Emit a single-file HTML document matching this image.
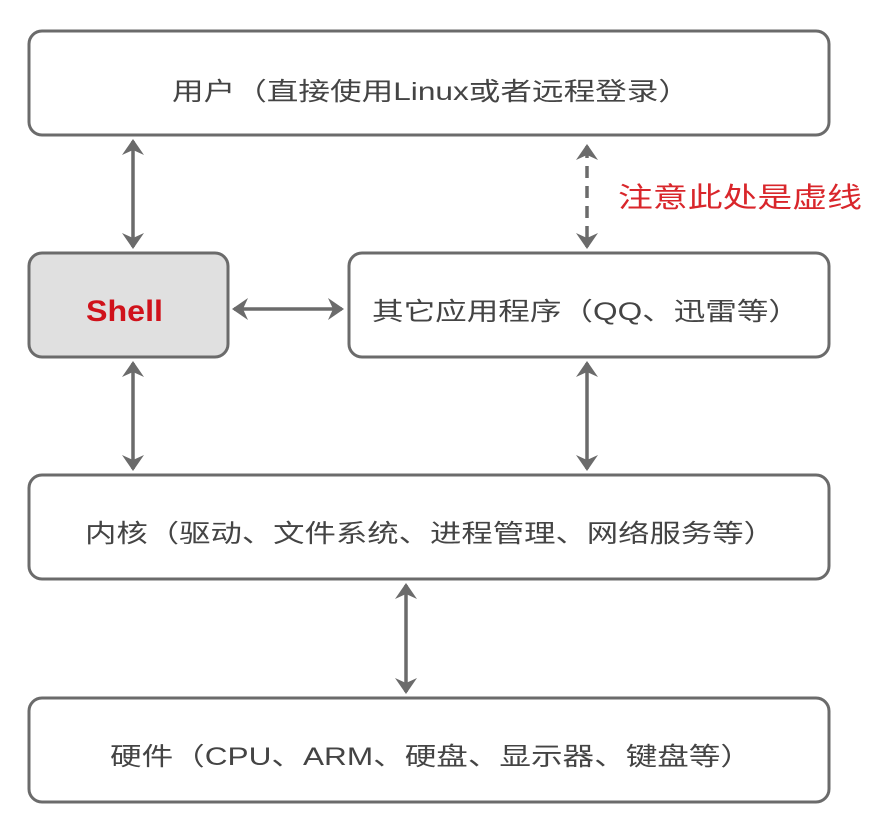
<!DOCTYPE html>
<html><head><meta charset="utf-8"><style>
html,body{margin:0;padding:0;background:#fff;}
svg{display:block}
text{font-family:"Liberation Sans","Noto Sans CJK SC",sans-serif;fill:#444;font-size:25px}
</style></head><body>
<svg width="876" height="830" viewBox="0 0 876 830" xmlns="http://www.w3.org/2000/svg">
<defs>
<marker id="a" viewBox="0 0 16 22" refX="14" refY="11" markerWidth="16" markerHeight="22" markerUnits="userSpaceOnUse" orient="auto-start-reverse">
<path d="M0,0 L16,11 L0,22 L5,11 z" fill="#6b6b6b"/>
</marker>
</defs>
<g fill="#fff" stroke="#6b6b6b" stroke-width="3">
<rect x="29" y="31" width="800" height="104" rx="13"/>
<rect x="29" y="253" width="199" height="104" rx="13" fill="#e0e0e0"/>
<rect x="349" y="253" width="480" height="104" rx="13"/>
<rect x="29" y="475" width="800" height="104" rx="13"/>
<rect x="29" y="698" width="800" height="104" rx="13"/>
</g>
<g stroke="#6b6b6b" stroke-width="3.5" fill="none">
<line x1="133" y1="141" x2="133" y2="247" marker-start="url(#a)" marker-end="url(#a)"/>
<line x1="234" y1="309" x2="342" y2="309" marker-start="url(#a)" marker-end="url(#a)"/>
<line x1="587" y1="146" x2="587" y2="247" stroke-dasharray="12,8" marker-start="url(#a)" marker-end="url(#a)"/>
<line x1="133" y1="363" x2="133" y2="469" marker-start="url(#a)" marker-end="url(#a)"/>
<line x1="587" y1="363" x2="587" y2="469" marker-start="url(#a)" marker-end="url(#a)"/>
<line x1="406" y1="585" x2="406" y2="692" marker-start="url(#a)" marker-end="url(#a)"/>
</g>
<text x="172" y="100" textLength="518" lengthAdjust="spacingAndGlyphs">用户（直接使用Linux或者远程登录）</text>
<text x="86" y="321" textLength="77" lengthAdjust="spacingAndGlyphs" font-weight="bold" style="fill:#d0121b;font-size:30px">Shell</text>
<text x="372" y="320" textLength="428" lengthAdjust="spacingAndGlyphs">其它应用程序（QQ、迅雷等）</text>
<text x="618" y="207" textLength="244" lengthAdjust="spacingAndGlyphs" style="fill:#d9262b;font-size:28px">注意此处是虚线</text>
<text x="85" y="542" textLength="690" lengthAdjust="spacingAndGlyphs">内核（驱动、文件系统、进程管理、网络服务等）</text>
<text x="110" y="765" textLength="642" lengthAdjust="spacingAndGlyphs">硬件（CPU、ARM、硬盘、显示器、键盘等）</text>
</svg>
</body></html>
